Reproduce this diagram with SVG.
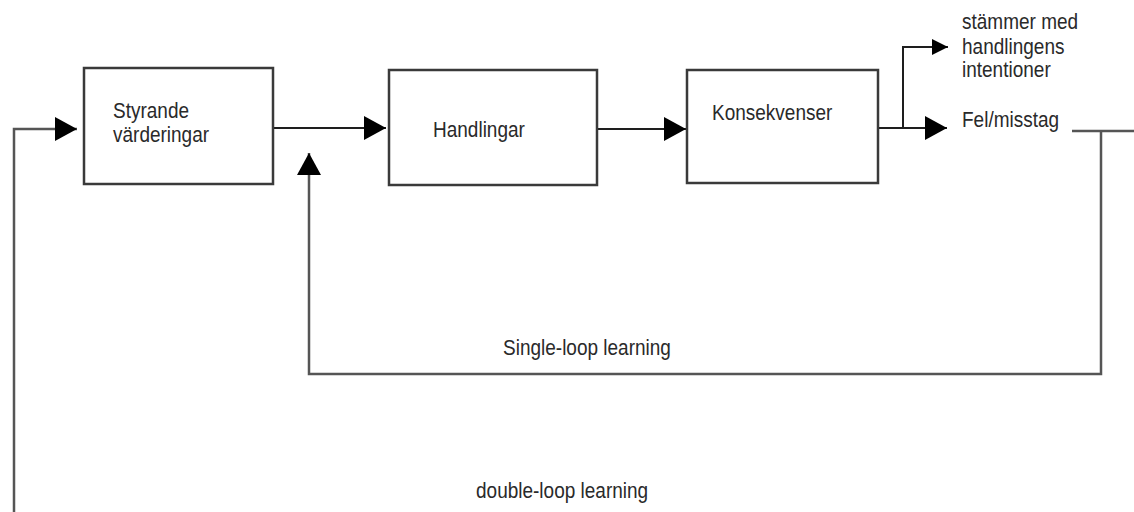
<svg xmlns="http://www.w3.org/2000/svg" width="1134" height="512" viewBox="0 0 1134 512">
  <style>
    .box { fill: #ffffff; stroke: #3a3a3a; stroke-width: 2.5; }
    .ln { fill: none; stroke: #1e1e1e; stroke-width: 2; }
    .lg { fill: none; stroke: #555; stroke-width: 2.5; }
    .t { font-family: "Liberation Sans", Arial, sans-serif; font-size: 19px; fill: #2a2a2a; }
  </style>
  <defs>
    <marker id="big" markerUnits="userSpaceOnUse" markerWidth="22" markerHeight="24" refX="22" refY="12" orient="auto">
      <path d="M0,0 L22,12 L0,24 Z" fill="#000"/>
    </marker>
    <marker id="small" markerUnits="userSpaceOnUse" markerWidth="16" markerHeight="16" refX="16" refY="8" orient="auto">
      <path d="M0,0 L16,8 L0,16 Z" fill="#000"/>
    </marker>
  </defs>
  <rect width="1134" height="512" fill="#ffffff"/>

  <g id="connectors">
    <!-- double loop: from bottom left up into box 1 -->
    <polyline class="lg" points="14,512 14,129 77,129" marker-end="url(#big)"/>
    <!-- box1 -> box2 -->
    <line class="ln" x1="273" y1="128" x2="386" y2="128" marker-end="url(#big)"/>
    <!-- box2 -> box3 -->
    <line class="ln" x1="597" y1="129" x2="686" y2="129" marker-end="url(#big)"/>
    <!-- box3 -> Fel/misstag -->
    <line class="ln" x1="878" y1="128" x2="947" y2="128" marker-end="url(#big)"/>
    <!-- branch up -> stämmer med -->
    <polyline class="ln" points="903,128 903,47 948,47" marker-end="url(#small)"/>
    <!-- single loop: from Fel/misstag back up to between box1 and box2 -->
    <polyline class="lg" points="1072,131 1134,131"/>
    <polyline class="lg" points="1101,131 1101,374 309,374 309,153" marker-end="url(#big)"/>
  </g>

  <g id="node-styrande">
    <rect class="box" x="84" y="68" width="189" height="116"/>
    <text class="t" transform="translate(113 118) scale(1 1.15)">Styrande</text>
    <text class="t" transform="translate(113 142) scale(1 1.15)">värderingar</text>
  </g>

  <g id="node-handlingar">
    <rect class="box" x="389" y="70" width="208" height="115"/>
    <text class="t" transform="translate(433 137) scale(1 1.15)">Handlingar</text>
  </g>

  <g id="node-konsekvenser">
    <rect class="box" x="687" y="70" width="191" height="113"/>
    <text class="t" transform="translate(712 120) scale(1 1.15)">Konsekvenser</text>
  </g>

  <g id="label-stammer">
    <text class="t" transform="translate(962 29) scale(1 1.15)">stämmer med</text>
    <text class="t" transform="translate(962 54) scale(1 1.15)">handlingens</text>
    <text class="t" transform="translate(962 77) scale(1 1.15)">intentioner</text>
  </g>

  <g id="label-fel">
    <text class="t" transform="translate(962 127) scale(1 1.15)">Fel/misstag</text>
  </g>

  <g id="label-single">
    <text class="t" transform="translate(503 355) scale(1 1.15)">Single-loop learning</text>
  </g>

  <g id="label-double">
    <text class="t" transform="translate(476 498) scale(1 1.15)">double-loop learning</text>
  </g>
</svg>
